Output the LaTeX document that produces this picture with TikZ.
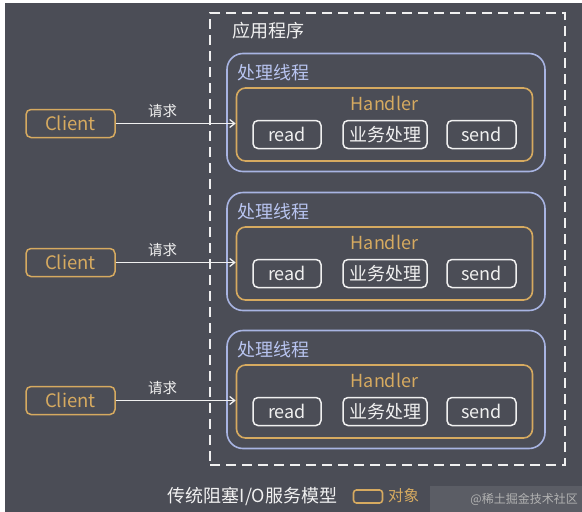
\documentclass[tikz,border=0pt]{standalone}
\usepackage{fontspec}
\setmainfont{Noto Sans CJK SC}
\usetikzlibrary{arrows.meta}
\definecolor{bg}{RGB}{75,77,86}
\definecolor{org}{RGB}{214,170,96}
\definecolor{blu}{RGB}{168,180,226}
\definecolor{blutxt}{RGB}{184,196,240}
\definecolor{wht}{RGB}{240,240,240}
\tikzset{
  thread/.style={draw=blu, line width=1.6pt, rounded corners=16pt, minimum width=318pt, minimum height=118pt, inner sep=0pt},
  handler/.style={draw=org, line width=1.6pt, rounded corners=9pt, minimum width=296pt, minimum height=73pt, inner sep=0pt},
  opbox/.style={draw=wht, line width=1.5pt, rounded corners=5pt, minimum height=28pt, inner sep=0pt, text=wht, font=\fontsize{18}{20}\selectfont},
  client/.style={draw=org, line width=1.5pt, rounded corners=5pt, minimum width=89pt, minimum height=28pt, inner sep=0pt, text=org, font=\fontsize{18.5}{20}\selectfont},
  req/.style={draw=wht, line width=1.3pt, -{Straight Barb[length=5pt,width=8pt]}},
  reqlabel/.style={text=wht, font=\fontsize{14.5}{16}\selectfont},
  threadlabel/.style={text=blutxt, font=\fontsize{18}{20}\selectfont, anchor=west, inner sep=0pt},
  handlerlabel/.style={text=org, font=\fontsize{18}{20}\selectfont, inner sep=0pt},
}
\begin{document}
\begin{tikzpicture}[x=1pt,y=-1pt]
\useasboundingbox (0,0) rectangle (582,512);
\fill[white] (0,0) rectangle (582,512);
\fill[bg] (5,3) rectangle (582,512);
% application dashed frame
\node[draw=wht, line width=1.6pt, dash pattern=on 10pt off 6pt, minimum width=355pt, minimum height=452pt, inner sep=0pt] (app) at (387.5,239) {};
\node[text=wht, font=\fontsize{18}{20}\selectfont, anchor=west, inner sep=0pt] (applabel) at (232,31) {应用程序};
% rows
\foreach \i/\dy in {1/0,2/139,3/277}{
  \node[thread] (t\i) at (386,112.5+\dy) {};
  \node[threadlabel] (tl\i) at (237,73+\dy) {处理线程};
  \node[handler] (h\i) at (384.5,124.5+\dy) {};
  \node[handlerlabel] (hl\i) at (384.5,103+\dy) {Handler};
  \node[opbox, minimum width=68pt] (r\i) at (287,134.5+\dy) {read};
  \node[opbox, minimum width=84pt] (b\i) at (385,134.5+\dy) {业务处理};
  \node[opbox, minimum width=69pt] (s\i) at (481.5,134.5+\dy) {send};
  \node[client] (c\i) at (70.5,123.5+\dy) {Client};
  \draw[req] (c\i.east) -- (h\i.west |- c\i.east) node[reqlabel, midway, above=2pt, xshift=-13pt] {请求};
}
% legend
\node[text=wht, font=\fontsize{18}{20}\selectfont, inner sep=0pt] (title) at (252.5,496) {传统阻塞I/O服务模型};
\node[draw=org, line width=1.6pt, rounded corners=3pt, minimum width=29pt, minimum height=13pt, inner sep=0pt] (legbox) at (368,496.5) {};
\node[text=org, font=\fontsize{15.5}{18}\selectfont, anchor=west, inner sep=0pt] (legtext) at (388,496) {对象};
% watermark
\fill[bg!85!white, opacity=0.6] (430,486) rectangle (582,512);
\node[text=gray!60!white, font=\fontsize{12}{14}\selectfont, anchor=east, inner sep=0pt] (wm) at (578,499) {@稀土掘金技术社区};
\end{tikzpicture}
\end{document}
